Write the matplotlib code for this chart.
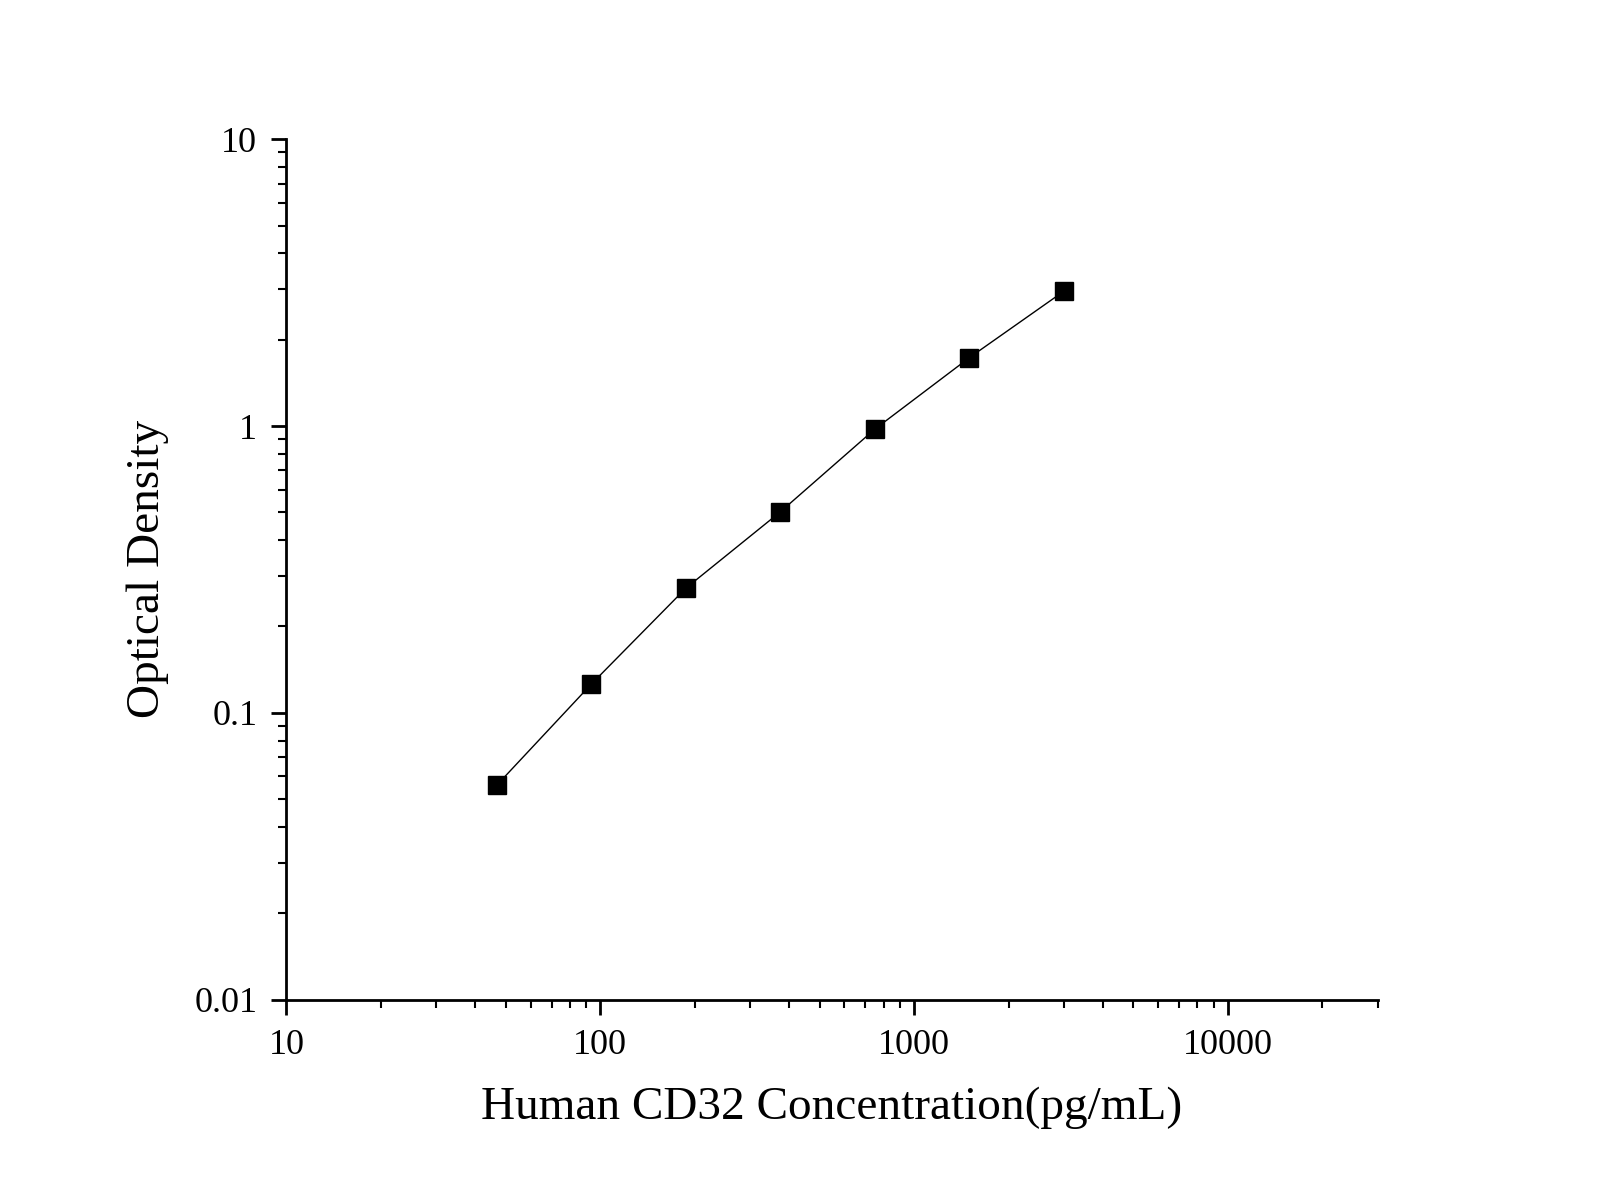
import matplotlib
matplotlib.use("Agg")
import matplotlib.pyplot as plt
from matplotlib.ticker import LogLocator, FixedLocator, FixedFormatter, NullFormatter

# standard curve data
concentration = [46.875, 93.75, 187.5, 375, 750, 1500, 3000]
optical_density = [0.056, 0.126, 0.272, 0.502, 0.975, 1.73, 2.95]

x_ticks = [10, 100, 1000, 10000]
x_labels = ["10", "100", "1000", "10000"]
y_ticks = [0.01, 0.1, 1, 10]
y_labels = ["0.01", "0.1", "1", "10"]

plt.rcParams["font.family"] = "Liberation Serif"

fig = plt.figure(figsize=(16, 12), dpi=100)
ax = fig.add_axes([0.179, 0.167, 0.682, 0.717])

ax.plot(concentration, optical_density, "-", color="black", linewidth=1,
        marker="s", markersize=13)

ax.set_xscale("log")
ax.set_yscale("log")
ax.set_xlim(10, 30000)
ax.set_ylim(0.01, 10)

ax.xaxis.set_major_locator(FixedLocator(x_ticks))
ax.xaxis.set_major_formatter(FixedFormatter(x_labels))
ax.yaxis.set_major_locator(FixedLocator(y_ticks))
ax.yaxis.set_major_formatter(FixedFormatter(y_labels))
ax.xaxis.set_minor_locator(LogLocator(base=10, subs=range(2, 10)))
ax.yaxis.set_minor_locator(LogLocator(base=10, subs=range(2, 10)))
ax.xaxis.set_minor_formatter(NullFormatter())
ax.yaxis.set_minor_formatter(NullFormatter())

ax.spines["top"].set_visible(False)
ax.spines["right"].set_visible(False)
ax.spines["left"].set_linewidth(2)
ax.spines["bottom"].set_linewidth(2)
ax.tick_params(which="major", direction="out", length=11, width=2, labelsize=26, pad=10)
ax.tick_params(which="minor", direction="out", length=6, width=1.5)

ax.set_xlabel("Human CD32 Concentration(pg/mL)", fontsize=34, labelpad=18)
ax.set_ylabel("Optical Density", fontsize=34, labelpad=18)

plt.savefig("out.png", dpi=100)
plt.close(fig)
